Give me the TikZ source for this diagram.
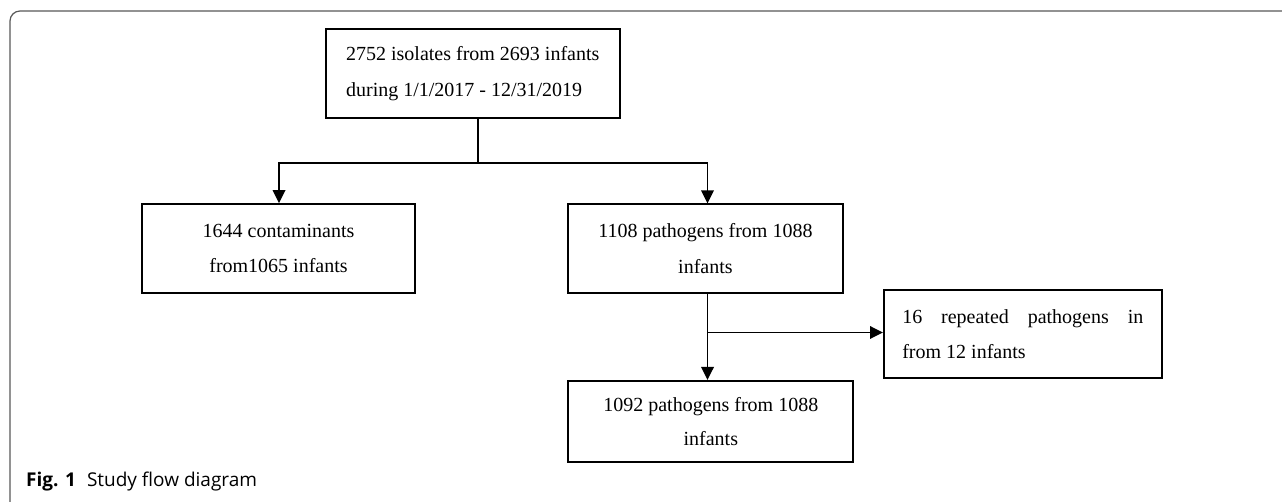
\documentclass[tikz,border=0pt]{standalone}
\usepackage{fontspec}
\setmainfont{Liberation Serif}
\newfontfamily\capfont{Open Sans}
\usetikzlibrary{arrows.meta}
\begin{document}
\begin{tikzpicture}[x=1pt,y=-1pt,
  flowbox/.style={draw=black, line width=2pt, inner sep=0pt, minimum width=#1, font=\fontsize{20}{35.5}\selectfont},
  conn/.style={line width=1.8pt, black},
  arr/.style={conn, -{Triangle[length=13pt,width=12.5pt]}},
  framedge/.style={draw=black!65, line width=1.2pt, rounded corners=10pt}
]
\useasboundingbox (0,0) rectangle (1282,502);
\fill[white] (0,0) rectangle (1282,502);
% frame
\draw[framedge] (10,503) -- (10,11) -- (1283,11);

% boxes
\node[flowbox=294.5pt, minimum height=89.5pt, align=left] (top) at (472.75,73.5)
  {2752 isolates from 2693 infants\\during 1/1/2017 - 12/31/2019};
\node[flowbox=273pt, minimum height=88.5pt, align=center] (left) at (278.5,248.5)
  {1644 contaminants\\from1065 infants};
\node[flowbox=275.6pt, minimum height=88.6pt, align=center] (mid) at (705.4,248.7)
  {1108 pathogens from 1088\\infants};
\node[flowbox=277.6pt, minimum height=88.3pt, align=left] (right) at (1022.8,334.2)
  {\makebox[241pt][l]{16\hfill repeated\hfill pathogens\hfill in}\\from 12 infants};
\node[flowbox=285pt, minimum height=81pt, align=center,
      font=\fontsize{20}{33.5}\selectfont] (bottom) at (710.8,421.5)
  {1092 pathogens from 1088\\infants};

% connectors
\coordinate (split) at (478,163);
\coordinate (splitL) at (279,163);
\coordinate (splitR) at (707.5,163);
\coordinate (branch) at (707.5,332.5);
\draw[conn] (split |- top.south) -- (split);
\draw[arr] (split) -- (splitL) -- (splitL |- left.north);
\draw[arr] (split) -- (splitR) -- (splitR |- mid.north);
\draw[arr] (branch |- mid.south) -- (branch |- bottom.north);
\draw[arr] (branch) -- (branch -| right.west);

% caption
\node[anchor=base west, inner sep=0pt, font=\capfont\fontsize{19}{22}\selectfont] (caption) at (26,486)
  {\textbf{Fig. 1}\hspace{11pt}Study flow diagram};
\end{tikzpicture}
\end{document}
